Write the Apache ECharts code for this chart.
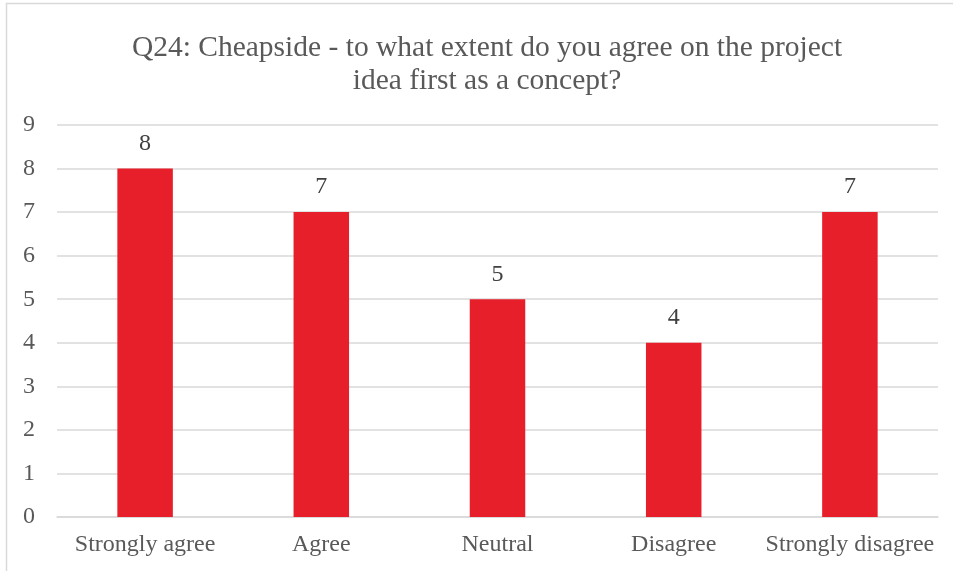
<!DOCTYPE html>
<html>
<head>
<meta charset="utf-8">
<script src="https://cdn.jsdelivr.net/npm/echarts@6/dist/echarts.min.js"></script>
<style>
  html, body { margin: 0; padding: 0; background: #fff; }
  #chart { width: 953px; height: 571px; }
</style>
</head>
<body>
<div id="chart"></div>
<script>
// Survey responses for Q24
const categories = ['Strongly agree', 'Agree', 'Neutral', 'Disagree', 'Strongly disagree'];
const counts = [8, 7, 5, 4, 7];
const yTicks = [0, 1, 2, 3, 4, 5, 6, 7, 8, 9];
const titleText = 'Q24: Cheapside - to what extent do you agree on the project\nidea first as a concept?';

const serif = '"Liberation Serif", "Times New Roman", serif';
const chart = echarts.init(document.getElementById('chart'), null, { renderer: 'canvas' });

chart.setOption({
  animation: false,
  backgroundColor: '#fff',
  graphic: [{
    type: 'rect',
    shape: { x: 6.5, y: 3.5, width: 960, height: 580 },
    style: { fill: 'none', stroke: '#d9d9d9', lineWidth: 1.5 },
    silent: true
  }],
  title: {
    text: titleText,
    left: 482,
    top: 27,
    textAlign: 'center',
    textStyle: {
      fontFamily: serif,
      fontSize: 29.5,
      fontWeight: 'normal',
      color: '#595959',
      lineHeight: 33
    }
  },
  grid: { left: 57, right: 15, top: 125, bottom: 54, containLabel: false },
  xAxis: {
    type: 'category',
    data: categories,
    axisTick: { show: false },
    axisLine: { show: true, lineStyle: { color: '#d9d9d9', width: 1.5 } },
    axisLabel: { interval: 0, fontFamily: serif, fontSize: 24, color: '#595959', margin: 16 }
  },
  yAxis: {
    type: 'value',
    min: yTicks[0],
    max: yTicks[yTicks.length - 1],
    interval: 1,
    axisLine: { show: false },
    axisTick: { show: false },
    splitLine: { lineStyle: { color: '#d9d9d9', width: 1.5 } },
    axisLabel: { fontFamily: serif, fontSize: 24, color: '#595959', margin: 22 }
  },
  series: [{
    type: 'bar',
    data: counts,
    barWidth: '31.5%',
    itemStyle: { color: '#e61f2a' },
    label: {
      show: true,
      position: 'top',
      distance: 13,
      fontFamily: serif,
      fontSize: 24,
      color: '#404040'
    }
  }]
});
</script>
</body>
</html>
